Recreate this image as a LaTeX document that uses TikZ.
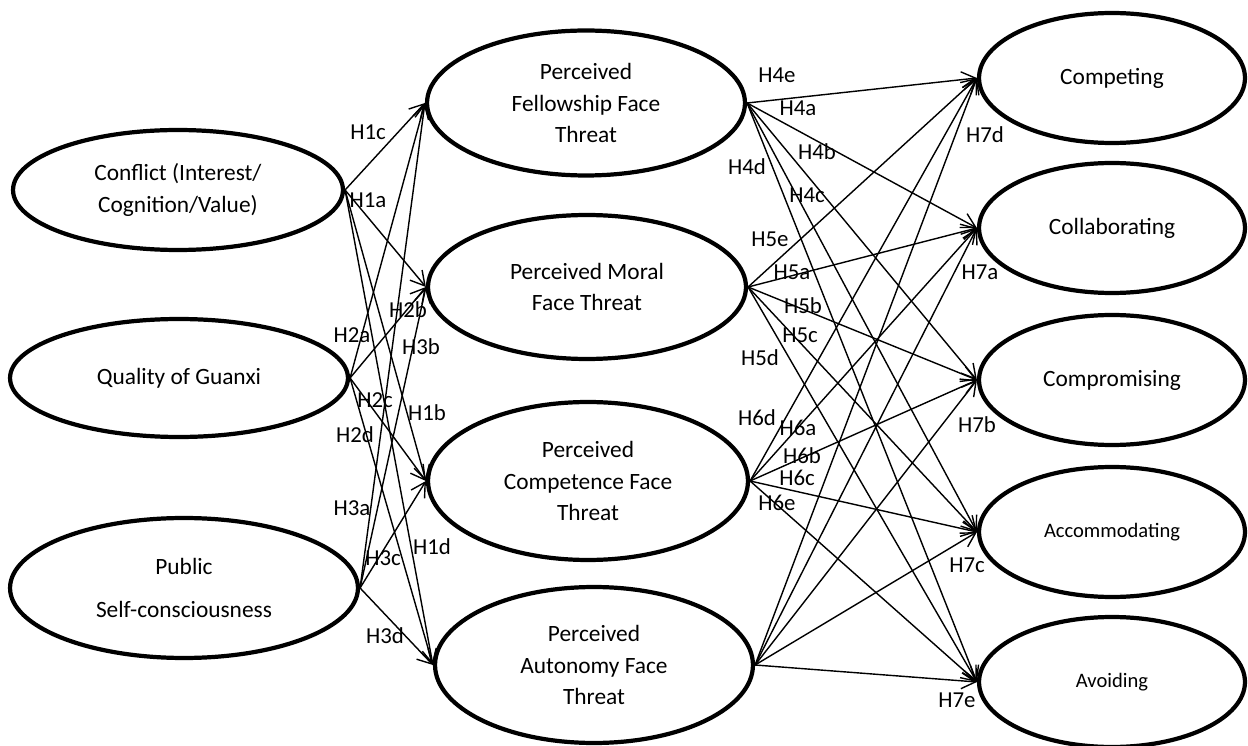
\documentclass[tikz,border=0pt]{standalone}
\usepackage{fontspec}
\setmainfont{Carlito}
\usepackage{tikz}
\usetikzlibrary{shapes.geometric, arrows.meta}
\tikzstyle{latent} = [ellipse, draw=black, line width=2.4pt, inner sep=0pt, align=center, font=\fontsize{13.3}{18}\selectfont]
\tikzstyle{smalllat} = [latent, font=\fontsize{11.7}{15}\selectfont]
\tikzstyle{hyp} = [inner sep=0pt, font=\fontsize{13}{15}\selectfont]
\tikzstyle{arrow} = [line width=0.8pt,->,>={Straight Barb[length=8pt,width=9pt]}]

\begin{document}
\begin{tikzpicture}[x=0.02cm, y=-0.02cm]
  \useasboundingbox (0,0) rectangle (1248,746);
  % antecedents
  \node (CONF) [latent, minimum width=6.6cm, minimum height=2.4cm] at (178,190) {Conflict (Interest/\\Cognition/Value)};
  \node (GUAN) [latent, minimum width=6.76cm, minimum height=2.36cm] at (179,378) {Quality of Guanxi};
  \node (PUBL) [latent, minimum width=6.96cm, minimum height=2.8cm] at (184,588) {Public\\[6pt]Self-consciousness};
  % face threats
  \node (FELL) [latent, minimum width=6.36cm, minimum height=2.9cm] at (586,103) {Perceived\\Fellowship Face\\Threat};
  \node (MORA) [latent, minimum width=6.36cm, minimum height=2.88cm] at (587,287) {Perceived Moral\\Face Threat};
  \node (COMP) [latent, minimum width=6.4cm, minimum height=3.16cm] at (588,481) {Perceived\\Competence Face\\Threat};
  \node (AUTO) [latent, minimum width=6.36cm, minimum height=3.12cm] at (594,665) {Perceived\\Autonomy Face\\Threat};
  % conflict styles
  \node (CPTG) [latent, minimum width=5.32cm, minimum height=2.6cm] at (1112,78) {Competing};
  \node (COLL) [latent, minimum width=5.32cm, minimum height=2.6cm] at (1112,228) {Collaborating};
  \node (CPRM) [latent, minimum width=5.32cm, minimum height=2.6cm] at (1112,380) {Compromising};
  \node (ACCO) [smalllat, minimum width=5.32cm, minimum height=2.6cm] at (1112,532) {Accommodating};
  \node (AVOI) [smalllat, minimum width=5.32cm, minimum height=2.6cm] at (1112,682) {Avoiding};

  \draw [arrow] (CONF.east) -- (FELL.west);
  \draw [arrow] (CONF.east) -- (MORA.west);
  \draw [arrow] (CONF.east) -- (COMP.west);
  \draw [arrow] (CONF.east) -- (AUTO.west);
  \draw [arrow] (GUAN.east) -- (FELL.west);
  \draw [arrow] (GUAN.east) -- (MORA.west);
  \draw [arrow] (GUAN.east) -- (COMP.west);
  \draw [arrow] (GUAN.east) -- (AUTO.west);
  \draw [arrow] (PUBL.east) -- (FELL.west);
  \draw [arrow] (PUBL.east) -- (MORA.west);
  \draw [arrow] (PUBL.east) -- (COMP.west);
  \draw [arrow] (PUBL.east) -- (AUTO.west);

  \draw [arrow] (FELL.east) -- (CPTG.west);
  \draw [arrow] (FELL.east) -- (COLL.west);
  \draw [arrow] (FELL.east) -- (CPRM.west);
  \draw [arrow] (FELL.east) -- (ACCO.west);
  \draw [arrow] (FELL.east) -- (AVOI.west);
  \draw [arrow] (MORA.east) -- (CPTG.west);
  \draw [arrow] (MORA.east) -- (COLL.west);
  \draw [arrow] (MORA.east) -- (CPRM.west);
  \draw [arrow] (MORA.east) -- (ACCO.west);
  \draw [arrow] (MORA.east) -- (AVOI.west);
  \draw [arrow] (COMP.east) -- (CPTG.west);
  \draw [arrow] (COMP.east) -- (COLL.west);
  \draw [arrow] (COMP.east) -- (CPRM.west);
  \draw [arrow] (COMP.east) -- (ACCO.west);
  \draw [arrow] (COMP.east) -- (AVOI.west);
  \draw [arrow] (AUTO.east) -- (CPTG.west);
  \draw [arrow] (AUTO.east) -- (COLL.west);
  \draw [arrow] (AUTO.east) -- (CPRM.west);
  \draw [arrow] (AUTO.east) -- (ACCO.west);
  \draw [arrow] (AUTO.east) -- (AVOI.west);

  % hypothesis labels
  \node (h1c) [hyp] at (368,132) {H1c};
  \node (h1a) [hyp] at (368,200) {H1a};
  \node (h2a) [hyp] at (352,335) {H2a};
  \node (h2b) [hyp] at (408,310) {H2b};
  \node (h3b) [hyp] at (421,347) {H3b};
  \node (h2c) [hyp] at (375,400) {H2c};
  \node (h1b) [hyp] at (427,413) {H1b};
  \node (h2d) [hyp] at (355,435) {H2d};
  \node (h3a) [hyp] at (352,508) {H3a};
  \node (h3c) [hyp] at (383,558) {H3c};
  \node (h1d) [hyp] at (432,547) {H1d};
  \node (h3d) [hyp] at (385,636) {H3d};
  \node (h4e) [hyp] at (777,75) {H4e};
  \node (h4a) [hyp] at (798,108) {H4a};
  \node (h4d) [hyp] at (747,167) {H4d};
  \node (h4b) [hyp] at (817,152) {H4b};
  \node (h4c) [hyp] at (807,195) {H4c};
  \node (h5e) [hyp] at (770,239) {H5e};
  \node (h5a) [hyp] at (792,272) {H5a};
  \node (h5b) [hyp] at (803,306) {H5b};
  \node (h5c) [hyp] at (800,335) {H5c};
  \node (h5d) [hyp] at (760,358) {H5d};
  \node (h6d) [hyp] at (757,418) {H6d};
  \node (h6a) [hyp] at (798,428) {H6a};
  \node (h6b) [hyp] at (802,456) {H6b};
  \node (h6c) [hyp] at (797,478) {H6c};
  \node (h6e) [hyp] at (777,503) {H6e};
  \node (h7d) [hyp] at (985,135) {H7d};
  \node (h7a) [hyp] at (980,272) {H7a};
  \node (h7b) [hyp] at (977,425) {H7b};
  \node (h7c) [hyp] at (967,565) {H7c};
  \node (h7e) [hyp] at (957,700) {H7e};
\end{tikzpicture}
\end{document}
